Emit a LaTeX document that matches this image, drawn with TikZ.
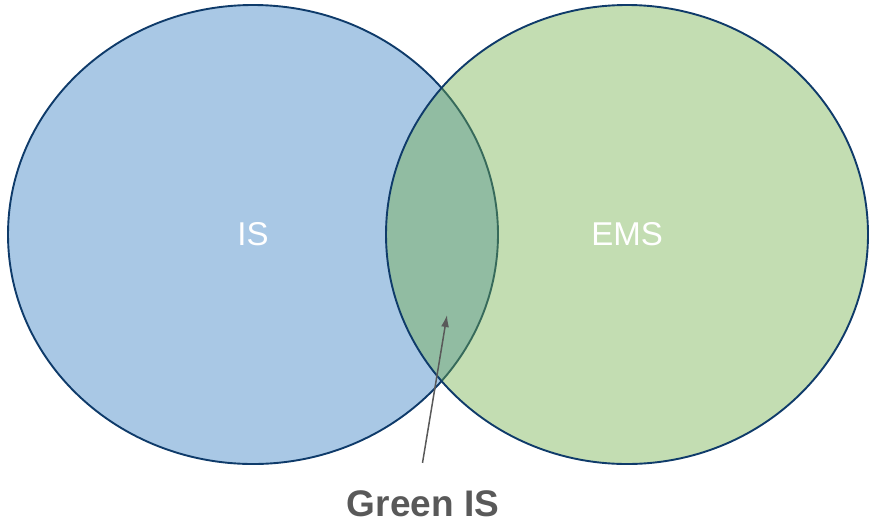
\documentclass[tikz,border=0pt]{standalone}
\usepackage{fontspec}
\setmainfont{Liberation Sans}
\usetikzlibrary{shapes.geometric,arrows.meta}
\definecolor{vennEdge}{HTML}{0F3B6A}
\definecolor{vennBlue}{HTML}{A9C8E5}
\definecolor{vennGreen}{HTML}{70AD47}
\definecolor{vennText}{HTML}{595959}
\begin{document}
\begin{tikzpicture}[x=1pt,y=-1pt,
    vennSet/.style={ellipse,draw=vennEdge,line width=1.9pt,inner sep=0pt,
        text=white,font=\fontsize{33}{38}\selectfont},
    vennLeft/.style={vennSet,fill=vennBlue},
    vennRight/.style={vennSet,fill=vennGreen,fill opacity=0.42,text opacity=1},
    vennArrow/.style={-{Latex[length=12pt,width=8pt]},vennText,line width=1.5pt},
]
\useasboundingbox (0,0) rectangle (869,523);
% Sets
\node[vennLeft,minimum width=490pt,minimum height=459pt] (IS) at (253,234.5) {IS};
\node[vennRight,minimum width=482pt,minimum height=459pt] (EMS) at (627,234.5) {EMS};
% Overlap
\coordinate (overlap) at (447,315);
\node[text=vennText,font=\fontsize{37}{42}\selectfont\bfseries] (GIS) at (423,503.5) {Green IS};
\draw[vennArrow] ([xshift=-0.5pt,yshift=24pt]GIS.north) -- (overlap);
\end{tikzpicture}
\end{document}
